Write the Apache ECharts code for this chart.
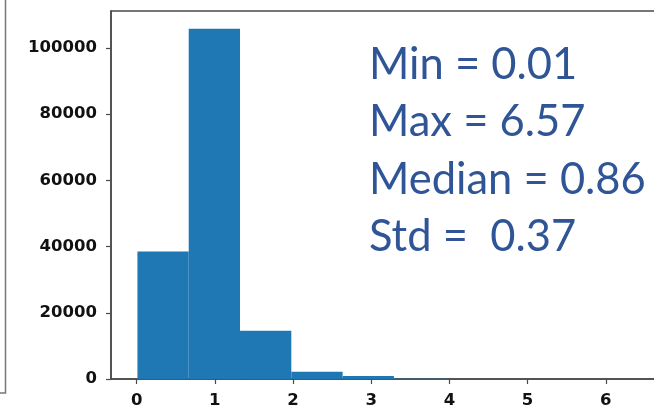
<!DOCTYPE html>
<html>
<head>
<meta charset="utf-8">
<script src="https://cdn.jsdelivr.net/npm/echarts@6/dist/echarts.min.js"></script>
<style>
  html, body { margin: 0; padding: 0; background: #fff; }
  #chart { width: 654px; height: 411px; }
</style>
</head>
<body>
<div id="chart"></div>
<script>
// Histogram bin edges (10 equal bins between min and max)
const binEdges = [0.01, 0.666, 1.322, 1.978, 2.634, 3.29, 3.946, 4.602, 5.258, 5.914, 6.57];
// Counts per bin
const binCounts = [38500, 105800, 14600, 2200, 900, 60, 15, 5, 2, 1];
// Axis ticks
const xTicks = [0, 1, 2, 3, 4, 5, 6];
const yTicks = [0, 20000, 40000, 60000, 80000, 100000];
// Summary statistics
const statLines = ['Min = 0.01', 'Max = 6.57', 'Median = 0.86', 'Std =  0.37'];

const xMin = -0.328, xMax = 6.898;
const yMax = 111140;

const barData = binCounts.map((c, i) => [binEdges[i], binEdges[i + 1], c]);

const axisColor = '#4a4a4a';
const labelStyle = {
  color: '#111',
  fontFamily: 'DejaVu Sans',
  fontWeight: 'bold',
  fontSize: 16.5,
  formatter: v => String(v)
};

const chart = echarts.init(document.getElementById('chart'), null, { renderer: 'canvas' });

const statY = [69, 126, 184, 241];

chart.setOption({
  animation: false,
  backgroundColor: '#fff',
  grid: {
    left: 111, top: 11, width: 565, height: 368,
    outerBoundsMode: 'none',
    containLabel: false,
    show: true, borderColor: axisColor, borderWidth: 1.5,
    backgroundColor: 'transparent'
  },
  xAxis: {
    type: 'value', min: xMin, max: xMax,
    splitLine: { show: false },
    axisLine: { show: true, onZero: false, lineStyle: { color: axisColor, width: 1.5 } },
    axisTick: { show: true, length: 5, customValues: xTicks, lineStyle: { color: axisColor, width: 1.2 } },
    axisLabel: Object.assign({ margin: 13, customValues: xTicks }, labelStyle)
  },
  yAxis: {
    type: 'value', min: 0, max: yMax,
    splitLine: { show: false },
    axisLine: { show: true, onZero: false, lineStyle: { color: axisColor, width: 1.5 } },
    axisTick: { show: true, length: 5, customValues: yTicks, lineStyle: { color: axisColor, width: 1.2 } },
    axisLabel: Object.assign({ margin: 14, customValues: yTicks }, labelStyle)
  },
  series: [{
    type: 'custom',
    data: barData,
    encode: { x: [0, 1], y: 2 },
    renderItem: function (params, api) {
      const x0 = api.value(0), x1 = api.value(1), c = api.value(2);
      const p0 = api.coord([x0, c]);
      const p1 = api.coord([x1, 0]);
      return {
        type: 'rect',
        shape: { x: p0[0], y: p0[1], width: p1[0] - p0[0], height: p1[1] - p0[1] },
        style: { fill: '#1f77b4' }
      };
    }
  }],
  graphic: [
    // edge of the neighbouring panel on the left
    { type: 'polyline', shape: { points: [[5.5, 0], [5.5, 393], [0, 393]] },
      style: { stroke: '#777', lineWidth: 1.5, fill: null } }
  ].concat(statLines.map((t, i) => ({
    type: 'text', left: 369, top: statY[i] - 26,
    style: {
      text: t, fill: '#2F5597', fontFamily: 'Lato', fontSize: 43.5,
      textVerticalAlign: 'top'
    }
  })))
});
</script>
</body>
</html>
